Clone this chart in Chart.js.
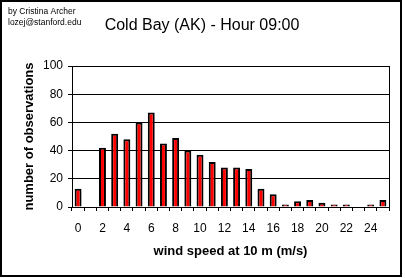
<!DOCTYPE html>
<html>
<head>
<meta charset="utf-8">
<script src="https://cdn.jsdelivr.net/npm/chart.js@4"></script>
<style>
  html, body { margin: 0; padding: 0; background: #fff; }
  canvas { display: block; }
</style>
</head>
<body>
<canvas id="c" width="405" height="278" style="width:405px;height:278px"></canvas>
<script>
const categories = ['0','1','2','3','4','5','6','7','8','9','10','11','12','13','14','15','16','17','18','19','20','21','22','23','24','25'];
const observations = [13, 0, 42, 52, 48, 60, 67, 45, 49, 40, 37, 32, 28, 28, 27, 13, 9, 1, 4, 5, 3, 1, 1, 0, 1, 5];
const yTicks = [0, 20, 40, 60, 80, 100];
const chartTitle = 'Cold Bay (AK) - Hour 09:00';
const authorLines = ['by Cristina Archer', 'lozej@stanford.edu'];
const xTitle = 'wind speed at 10 m (m/s)';
const yTitle = 'number of observations';

const FONT = "'Liberation Sans', Arial, sans-serif";
Chart.defaults.color = '#000';
Chart.defaults.font.family = FONT;

const decor = {
  id: 'decor',
  afterDraw(chart) {
    const ctx = chart.ctx;
    ctx.save();
    ctx.strokeStyle = '#000';
    ctx.lineWidth = 2;
    ctx.strokeRect(1, 1, 400, 275);
    ctx.fillStyle = '#000';
    ctx.textAlign = 'left';
    ctx.textBaseline = 'alphabetic';
    ctx.font = '8.5px ' + FONT;
    ctx.fillText(authorLines[0], 8, 13.5);
    ctx.fillText(authorLines[1], 8, 24.5);
    ctx.textAlign = 'center';
    ctx.font = '16px ' + FONT;
    ctx.fillText(chartTitle, 202, 30);
    ctx.restore();
  }
};

new Chart(document.getElementById('c'), {
  type: 'bar',
  data: {
    labels: categories,
    datasets: [{
      // zero counts are left empty so that no mark is drawn for them
      data: observations.map(v => (v === 0 ? null : v)),
      backgroundColor: '#ff0000',
      borderColor: '#000',
      borderWidth: 2,
      minBarLength: 2.5,
      barPercentage: 0.57,
      categoryPercentage: 1.0
    }]
  },
  options: {
    responsive: false,
    animation: false,
    devicePixelRatio: 1,
    layout: { padding: { left: 0, top: 66, right: 16, bottom: 0 } },
    plugins: { legend: { display: false }, tooltip: { enabled: false }, title: { display: false } },
    scales: {
      x: {
        type: 'category',
        offset: true,
        grid: { offset: true, drawOnChartArea: false, drawTicks: true, tickLength: 4, color: '#000', lineWidth: 1 },
        border: { color: '#000', width: 1 },
        ticks: {
          autoSkip: false, maxRotation: 0, padding: 10,
          font: { size: 12 },
          callback: function(v, i) { return i % 2 === 0 ? categories[i] : ''; }
        },
        title: { display: true, text: xTitle, font: { size: 13, weight: 'bold' }, padding: { top: 0, bottom: 19 } },
        afterFit(scale) { scale.height = 71; }
      },
      y: {
        min: 0, max: 100,
        afterBuildTicks(scale) { scale.ticks = yTicks.map(v => ({ value: v })); },
        grid: { color: '#000', lineWidth: 1, tickLength: 4, drawTicks: true },
        border: { color: '#000', width: 1 },
        ticks: { padding: 5, font: { size: 12 } },
        title: { display: true, text: yTitle, font: { size: 13, weight: 'bold' }, padding: { top: 22, bottom: 0 } },
        afterFit(scale) { scale.width = 72; }
      },
      y2: {
        position: 'right',
        min: 0, max: 100,
        grid: { drawOnChartArea: false, drawTicks: false },
        border: { color: '#000', width: 1 },
        ticks: { display: false },
        afterFit(scale) { scale.width = 0; }
      }
    }
  },
  plugins: [decor]
});
</script>
</body>
</html>
